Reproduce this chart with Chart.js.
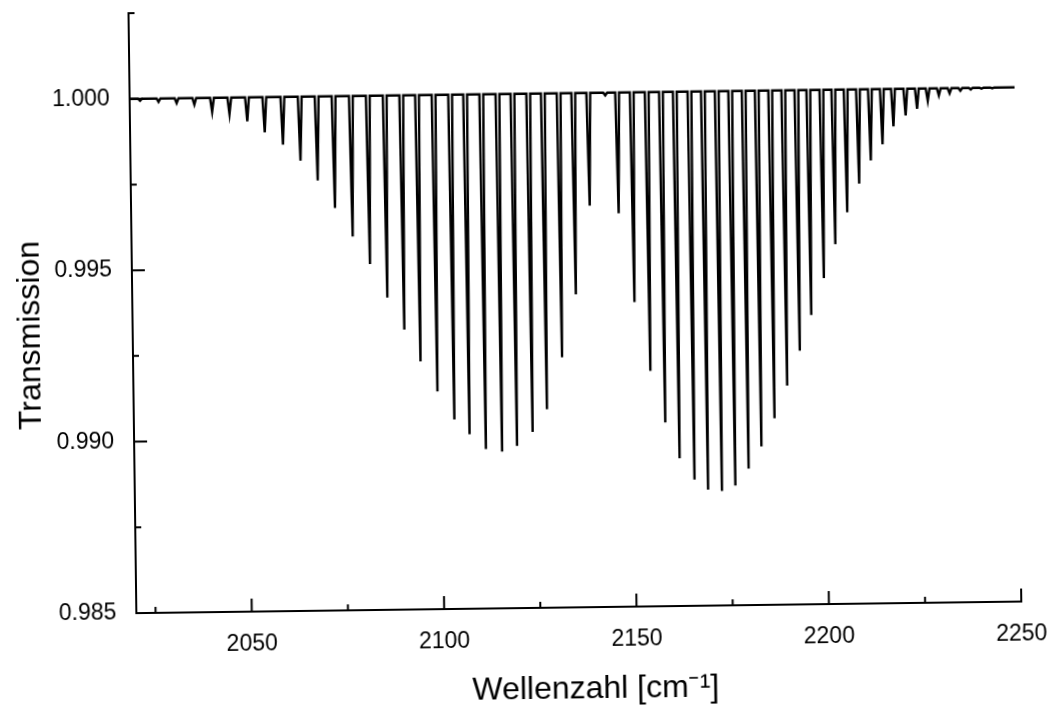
<!DOCTYPE html>
<html>
<head>
<meta charset="utf-8">
<script src="https://cdn.jsdelivr.net/npm/chart.js@4.4.1/dist/chart.umd.min.js"></script>
<style>
  html, body { margin: 0; padding: 0; background: #ffffff; overflow: hidden; }
  #wrap { width: 1053px; height: 708px; transform: rotate(-0.75deg); transform-origin: 526.5px 354px; }
  canvas { display: block; }
</style>
</head>
<body>
<div id="wrap"><canvas id="chart" width="1053" height="708"></canvas></div>
<script>
// ---- Data (wavenumber in cm^-1, minimum transmission of each line) ----
const pBranchPos = [2022.7, 2027.5, 2032.2, 2036.8, 2041.4, 2045.9, 2050.5, 2055.0, 2059.7, 2064.2,
                    2068.6, 2073.0, 2077.5, 2081.9, 2086.3, 2090.6, 2094.7, 2099.0, 2103.3, 2107.2,
                    2111.4, 2115.6, 2119.5, 2123.6, 2127.4, 2131.5, 2135.3, 2139.2];
const pBranchMin = [0.99994, 0.99990, 0.99986, 0.99981, 0.99959, 0.99952, 0.99930, 0.99897, 0.99861, 0.99813,
                    0.99755, 0.99674, 0.99590, 0.99509, 0.99411, 0.99317, 0.99223, 0.99135, 0.99053, 0.99009,
                    0.98965, 0.98957, 0.98973, 0.99013, 0.99079, 0.99230, 0.99413, 0.99671];
const centrePos = [2143.6];
const centreMin = [0.99992];
const rBranchPos = [2146.7, 2150.5, 2154.4, 2158.1, 2161.7, 2165.5, 2169.0, 2172.6, 2176.1, 2179.6,
                    2183.0, 2186.5, 2189.9, 2193.3, 2196.4, 2199.8, 2202.9, 2206.1, 2209.3, 2212.4,
                    2215.5, 2218.4, 2221.6, 2224.6, 2227.4, 2230.3, 2233.1, 2235.9, 2238.6, 2241.4, 2244.2];
const rBranchMin = [0.99648, 0.99388, 0.99187, 0.99036, 0.98931, 0.98868, 0.98838, 0.98834, 0.98849, 0.98898,
                    0.98962, 0.99044, 0.99139, 0.99240, 0.99344, 0.99451, 0.99549, 0.99642, 0.99725, 0.99792,
                    0.99839, 0.99891, 0.99922, 0.99941, 0.99964, 0.99979, 0.99985, 0.99992, 0.99995, 0.99997, 0.99998];
const baselineT = 1.0000;
const spectrumStart = 2020;
const spectrumEnd = 2250;

const xMajorTicks = [2050, 2100, 2150, 2200, 2250];
const xMinorTicks = [2025, 2075, 2125, 2175, 2225];
const yMajorTicks = [0.985, 0.990, 0.995, 1.000];
const yMinorTicks = [0.9875, 0.9925, 0.9975, 1.0025];
const xTitle = 'Wellenzahl [cm\u207B\u00B9]';
const yTitle = 'Transmission';

// ---- Build the line table for the library (each absorption line drawn as a narrow dip) ----
const lineHalfWidth = 0.5;
const allLines = [];
pBranchPos.forEach((p, i) => allLines.push([p, pBranchMin[i]]));
centrePos.forEach((p, i) => allLines.push([p, centreMin[i]]));
rBranchPos.forEach((p, i) => allLines.push([p, rBranchMin[i]]));
allLines.sort((a, b) => a[0] - b[0]);
const spectrum = [{ x: spectrumStart, y: baselineT }];
allLines.forEach(([p, t]) => {
  spectrum.push({ x: p - lineHalfWidth, y: baselineT });
  spectrum.push({ x: p, y: t });
  spectrum.push({ x: p + lineHalfWidth, y: baselineT });
});
spectrum.push({ x: spectrumEnd, y: baselineT });

const FONT = "'Liberation Sans', Arial, Helvetica, sans-serif";

// Inward-pointing tick marks (as in the original plot), placed through the chart scales
const inwardTicks = {
  id: 'inwardTicks',
  afterDraw(chart) {
    const { ctx, chartArea: a, scales } = chart;
    const xs = scales.x, ys = scales.y;
    ctx.save();
    ctx.strokeStyle = '#000';
    ctx.lineWidth = 2;
    ctx.beginPath();
    xMajorTicks.forEach(v => { const p = xs.getPixelForValue(v); ctx.moveTo(p, a.bottom); ctx.lineTo(p, a.bottom - 13); });
    xMinorTicks.forEach(v => { const p = xs.getPixelForValue(v); ctx.moveTo(p, a.bottom); ctx.lineTo(p, a.bottom - 6); });
    yMajorTicks.forEach(v => { const p = ys.getPixelForValue(v); ctx.moveTo(a.left, p); ctx.lineTo(a.left + 13, p); });
    yMinorTicks.forEach(v => { const p = ys.getPixelForValue(v); ctx.moveTo(a.left, p); ctx.lineTo(a.left + 6, p); });
    ctx.stroke();
    ctx.restore();
  }
};

// Axis titles, placed relative to the chart area as in the original
const axisTitles = {
  id: 'axisTitles',
  afterDraw(chart) {
    const { ctx, chartArea: a } = chart;
    ctx.save();
    ctx.fillStyle = '#000';
    ctx.font = '32px ' + FONT;
    ctx.textAlign = 'center';
    ctx.textBaseline = 'middle';
    ctx.fillText(xTitle, (a.left + a.right) / 2 + 16, 690);
    ctx.translate(31, (a.top + a.bottom) / 2 + 21);
    ctx.rotate(-Math.PI / 2);
    ctx.fillText(yTitle, 0, 0);
    ctx.restore();
  }
};

new Chart(document.getElementById('chart'), {
  type: 'line',
  data: {
    datasets: [{
      label: yTitle,
      data: spectrum,
      borderColor: '#000',
      borderWidth: 2.4,
      pointRadius: 0,
      tension: 0,
      fill: false
    }]
  },
  options: {
    responsive: false,
    animation: false,
    devicePixelRatio: 1,
    layout: { padding: { top: 8, right: 35, left: 0, bottom: 0 } },
    plugins: { legend: { display: false }, tooltip: { enabled: false } },
    scales: {
      x: {
        type: 'linear',
        min: 2020,
        max: 2250,
        afterBuildTicks: s => { s.ticks = xMajorTicks.map(v => ({ value: v })); },
        afterFit: s => { s.height = 100; s.paddingLeft = 0; s.paddingRight = 0; },
        grid: { display: false },
        border: { display: true, color: '#000', width: 2 },
        ticks: { color: '#000', padding: 11, maxRotation: 0, font: { family: FONT, size: 23 },
                 callback: v => String(v) },
        title: { display: false, text: xTitle }
      },
      y: {
        type: 'linear',
        min: 0.985,
        max: 1.0025,
        afterBuildTicks: s => { s.ticks = yMajorTicks.map(v => ({ value: v })); },
        afterFit: s => { s.width = 133; s.paddingTop = 0; s.paddingBottom = 0; },
        grid: { display: false },
        border: { display: true, color: '#000', width: 2 },
        ticks: { color: '#000', padding: 12, font: { family: FONT, size: 23 },
                 callback: v => Number(v).toFixed(3) },
        title: { display: false, text: yTitle }
      }
    }
  },
  plugins: [inwardTicks, axisTitles]
});
</script>
</body>
</html>
